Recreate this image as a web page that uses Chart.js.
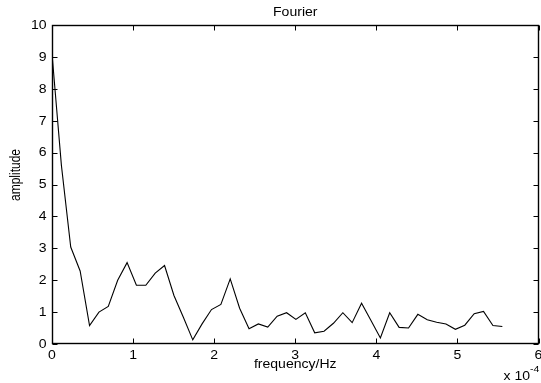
<!DOCTYPE html>
<html>
<head>
<meta charset="utf-8">
<script src="https://cdn.jsdelivr.net/npm/chart.js@4/dist/chart.umd.min.js"></script>
<style>
html,body{margin:0;padding:0;background:#fff;}
canvas{display:block;}
</style>
</head>
<body>
<canvas id="c" width="541" height="383"></canvas>
<script>
const titleText = "Fourier";
const xLabel = "frequency/Hz";
const yLabel = "amplitude";
const xExponent = "-4";
const xTicks = [0, 1, 2, 3, 4, 5, 6];
const yTicks = [0, 1, 2, 3, 4, 5, 6, 7, 8, 9, 10];
// frequency (x 10^-4 Hz)
const frequency = [0, 0.116, 0.231, 0.347, 0.463, 0.579, 0.694, 0.810, 0.926, 1.041,
  1.157, 1.273, 1.388, 1.504, 1.620, 1.736, 1.851, 1.967, 2.083, 2.198,
  2.314, 2.430, 2.545, 2.661, 2.777, 2.893, 3.008, 3.124, 3.240, 3.355,
  3.471, 3.587, 3.702, 3.818, 3.934, 4.050, 4.165, 4.281, 4.397, 4.512,
  4.628, 4.744, 4.859, 4.975, 5.091, 5.207, 5.322, 5.438, 5.554];
const amplitude = [9.1, 5.6, 3.04, 2.29, 0.58, 1.0, 1.18, 2.0, 2.55, 1.84,
  1.84, 2.22, 2.46, 1.52, 0.84, 0.13, 0.63, 1.08, 1.24, 2.04,
  1.12, 0.48, 0.63, 0.53, 0.87, 0.98, 0.77, 0.98, 0.35, 0.40,
  0.65, 0.98, 0.67, 1.28, 0.74, 0.19, 0.98, 0.52, 0.50, 0.93,
  0.76, 0.68, 0.63, 0.46, 0.59, 0.95, 1.02, 0.58, 0.55];

const FONT = "Liberation Sans, Arial, Helvetica, sans-serif";
const SX = 1.17; // horizontal text stretch seen in the reference

function wideText(ctx, txt, x, y, align, size) {
  ctx.save();
  ctx.font = size + 'px ' + FONT;
  ctx.textAlign = align;
  ctx.textBaseline = 'middle';
  ctx.translate(x, y);
  ctx.scale(SX, 1);
  ctx.fillText(txt, 0, 0);
  ctx.restore();
}

const boxPlugin = {
  id: 'matlabBox',
  afterDraw(chart) {
    const ctx = chart.ctx;
    const a = chart.chartArea;
    const xs = chart.scales.x, ys = chart.scales.y;
    ctx.save();
    ctx.strokeStyle = '#000';
    ctx.lineWidth = 1.4;
    const L = Math.round(a.left) + 0.5, R = Math.round(a.right) - 0.5;
    const T = Math.round(a.top) + 0.5, B = Math.round(a.bottom) - 0.5;
    ctx.strokeRect(L, T, R - L, B - T);
    const tl = 5;
    ctx.lineWidth = 1;
    ctx.beginPath();
    xTicks.forEach(v => {
      const p = Math.round(xs.getPixelForValue(v)) + 0.5;
      ctx.moveTo(p, B); ctx.lineTo(p, B - tl);
      ctx.moveTo(p, T); ctx.lineTo(p, T + tl);
    });
    yTicks.forEach(v => {
      const p = Math.round(ys.getPixelForValue(v)) + 0.5;
      ctx.moveTo(L, p); ctx.lineTo(L + tl, p);
      ctx.moveTo(R, p); ctx.lineTo(R - tl, p);
    });
    ctx.stroke();
    ctx.fillStyle = '#000';
    // tick labels
    xTicks.forEach(v => wideText(ctx, String(v), xs.getPixelForValue(v), a.bottom + 11.5, 'center', 12));
    yTicks.forEach(v => wideText(ctx, String(v), a.left - 5.5, ys.getPixelForValue(v) + 0.5, 'right', 12));
    const cx = (a.left + a.right) / 2;
    wideText(ctx, titleText, cx, 12.5, 'center', 12);
    wideText(ctx, xLabel, cx, 365, 'center', 12);
    ctx.save();
    ctx.font = '12px ' + FONT;
    ctx.textAlign = 'center';
    ctx.textBaseline = 'middle';
    ctx.translate(16, 175);
    ctx.scale(SX, 1);
    ctx.rotate(-Math.PI / 2);
    ctx.fillText(yLabel, 0, 0);
    ctx.restore();
    wideText(ctx, 'x 10', 530, 377, 'right', 12);
    wideText(ctx, xExponent, 530, 370, 'left', 9);
    ctx.restore();
  }
};

new Chart(document.getElementById('c'), {
  type: 'line',
  data: {
    datasets: [{
      data: frequency.map((f, i) => ({x: f, y: amplitude[i]})),
      borderColor: '#000',
      borderWidth: 1.1,
      pointRadius: 0,
      tension: 0,
      fill: false
    }]
  },
  options: {
    responsive: false,
    animation: false,
    devicePixelRatio: 1,
    layout: {padding: {top: 25, right: 2.5, left: 0, bottom: 0}},
    plugins: {legend: {display: false}, title: {display: false}, tooltip: {enabled: false}},
    scales: {
      x: {
        type: 'linear', min: 0, max: 6,
        afterFit: s => { s.height = 39; },
        grid: {display: false, drawTicks: false},
        border: {display: false},
        afterBuildTicks: s => { s.ticks = xTicks.map(v => ({value: v})); },
        ticks: {display: false}
      },
      y: {
        type: 'linear', min: 0, max: 10,
        afterFit: s => { s.width = 52; },
        grid: {display: false, drawTicks: false},
        border: {display: false},
        afterBuildTicks: s => { s.ticks = yTicks.map(v => ({value: v})); },
        ticks: {display: false}
      }
    }
  },
  plugins: [boxPlugin]
});
</script>
</body>
</html>
